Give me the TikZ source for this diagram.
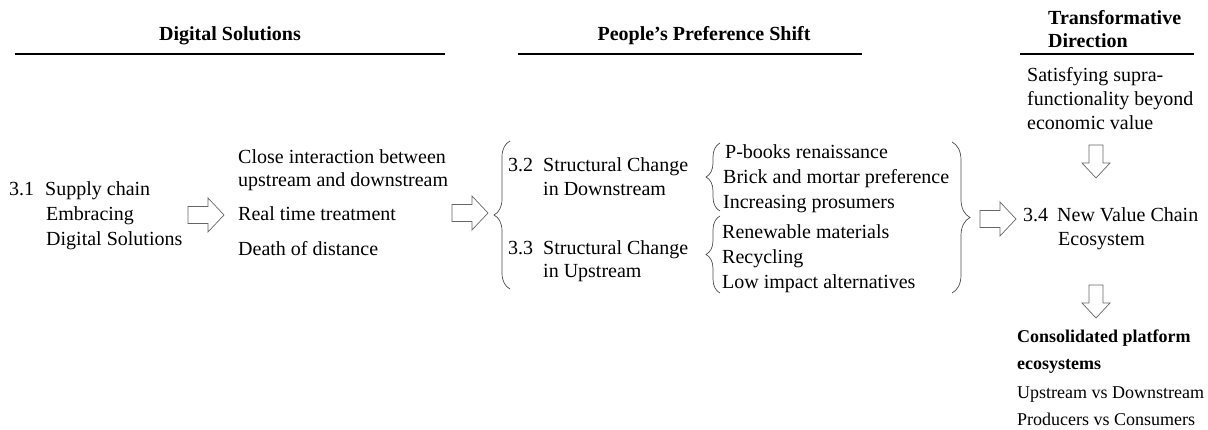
\documentclass[tikz,border=0pt]{standalone}
\usepackage{fontspec}
\setmainfont{Liberation Serif}
\usetikzlibrary{decorations.pathreplacing}
\begin{document}
\begin{tikzpicture}[x=1pt,y=-1pt,
  txt/.style={font=\fontsize{20}{23}\selectfont, inner sep=0pt, anchor=base west},
  sml/.style={font=\fontsize{18}{21}\selectfont, inner sep=0pt, anchor=base west},
  smlb/.style={font=\fontsize{18}{21}\selectfont\bfseries, inner sep=0pt, anchor=base west},
  hdr/.style={font=\fontsize{20}{23}\selectfont\bfseries, inner sep=0pt, anchor=base},
  hdrl/.style={font=\fontsize{20}{23}\selectfont\bfseries, inner sep=0pt, anchor=base west},
  rule/.style={line width=1.3pt, black},
  brc/.style={draw=black!70, line width=0.7pt, decorate, decoration={brace, amplitude=#1, aspect=0.5}},
  blk/.style={draw=black!60, line width=0.7pt, fill=white, line join=miter},
  rarr/.pic={\draw[blk] (0,-8.5)--(20,-8.5)--(20,-17)--(36,0)--(20,17)--(20,8.5)--(0,8.5)--cycle;},
  darr/.pic={\draw[blk] (-7,0)--(7,0)--(7,18)--(14,18)--(0,33)--(-14,18)--(-7,18)--cycle;}
]
\useasboundingbox (0,0) rectangle (1208,430);

% headers
\node[hdr] (h1) at (230,41) {Digital Solutions};
\draw[rule] (15,54) coordinate (h1a) -- (445,54) coordinate (h1b);
\node[hdr] (h2) at (704,41) {People’s Preference Shift};
\draw[rule] (518,54) coordinate (h2a) -- (862,54) coordinate (h2b);
\node[hdrl] (h3a) at (1048,25) {Transformative};
\node[hdrl] (h3b) at (1048,48) {Direction};
\draw[rule] (1020,54) coordinate (h3l) -- (1194,54) coordinate (h3r);

% column 1
\node[txt] (s1a) at (9,196) {3.1\hspace{11pt}Supply chain};
\node[txt] (s1b) at (46,221) {Embracing};
\node[txt] (s1c) at (46,246) {Digital Solutions};

% arrow 1
\coordinate (a1) at (188,215);
\pic at (a1) {rarr};

% column 2
\node[txt] (d1) at (238,164) {Close interaction between};
\node[txt] (d2) at (238,187) {upstream and downstream};
\node[txt] (d3) at (238,221) {Real time treatment};
\node[txt] (d4) at (238,256) {Death of distance};

% arrow 2
\coordinate (a2) at (452,213);
\pic at (a2) {rarr};

% big left brace
\draw[brc=16pt] (510,289) coordinate (b1s) -- (510,141) coordinate (b1e);

% column 3
\node[txt] (p2a) at (508,172) {3.2\hspace{10pt}Structural Change};
\node[txt] (p2b) at (543,196) {in Downstream};
\node[txt] (p3a) at (508,255) {3.3\hspace{10pt}Structural Change};
\node[txt] (p3b) at (543,278) {in Upstream};

% small braces
\draw[brc=14pt] (720,211) coordinate (b2s) -- (720,143) coordinate (b2e);
\draw[brc=14pt] (720,293) coordinate (b3s) -- (720,216) coordinate (b3e);

% items
\node[txt] (i1) at (725,159) {P-books renaissance};
\node[txt] (i2) at (723,184) {Brick and mortar preference};
\node[txt] (i3) at (723,209) {Increasing prosumers};
\node[txt] (i4) at (722,239) {Renewable materials};
\node[txt] (i5) at (722,264) {Recycling};
\node[txt] (i6) at (722,289) {Low impact alternatives};

% right brace
\draw[brc=18pt] (952,142) coordinate (b4s) -- (952,293) coordinate (b4e);

% arrow 3
\coordinate (a3) at (980,219);
\pic at (a3) {rarr};

% right column
\node[txt] (t1) at (1027,82) {Satisfying supra-};
\node[txt] (t2) at (1027,106) {functionality beyond};
\node[txt] (t3) at (1027,130) {economic value};

\coordinate (a4) at (1096,145);
\pic at (a4) {darr};

\node[txt] (n1) at (1023,222) {3.4\hspace{9pt}New Value Chain};
\node[txt] (n2) at (1058,246) {Ecosystem};

\coordinate (a5) at (1096,285);
\pic at (a5) {darr};

\node[smlb] (c1) at (1017,343) {Consolidated platform};
\node[smlb] (c2) at (1017,370) {ecosystems};
\node[sml] (c3) at (1017,399) {Upstream vs Downstream};
\node[sml] (c4) at (1017,425) {Producers vs Consumers};
\end{tikzpicture}
\end{document}
